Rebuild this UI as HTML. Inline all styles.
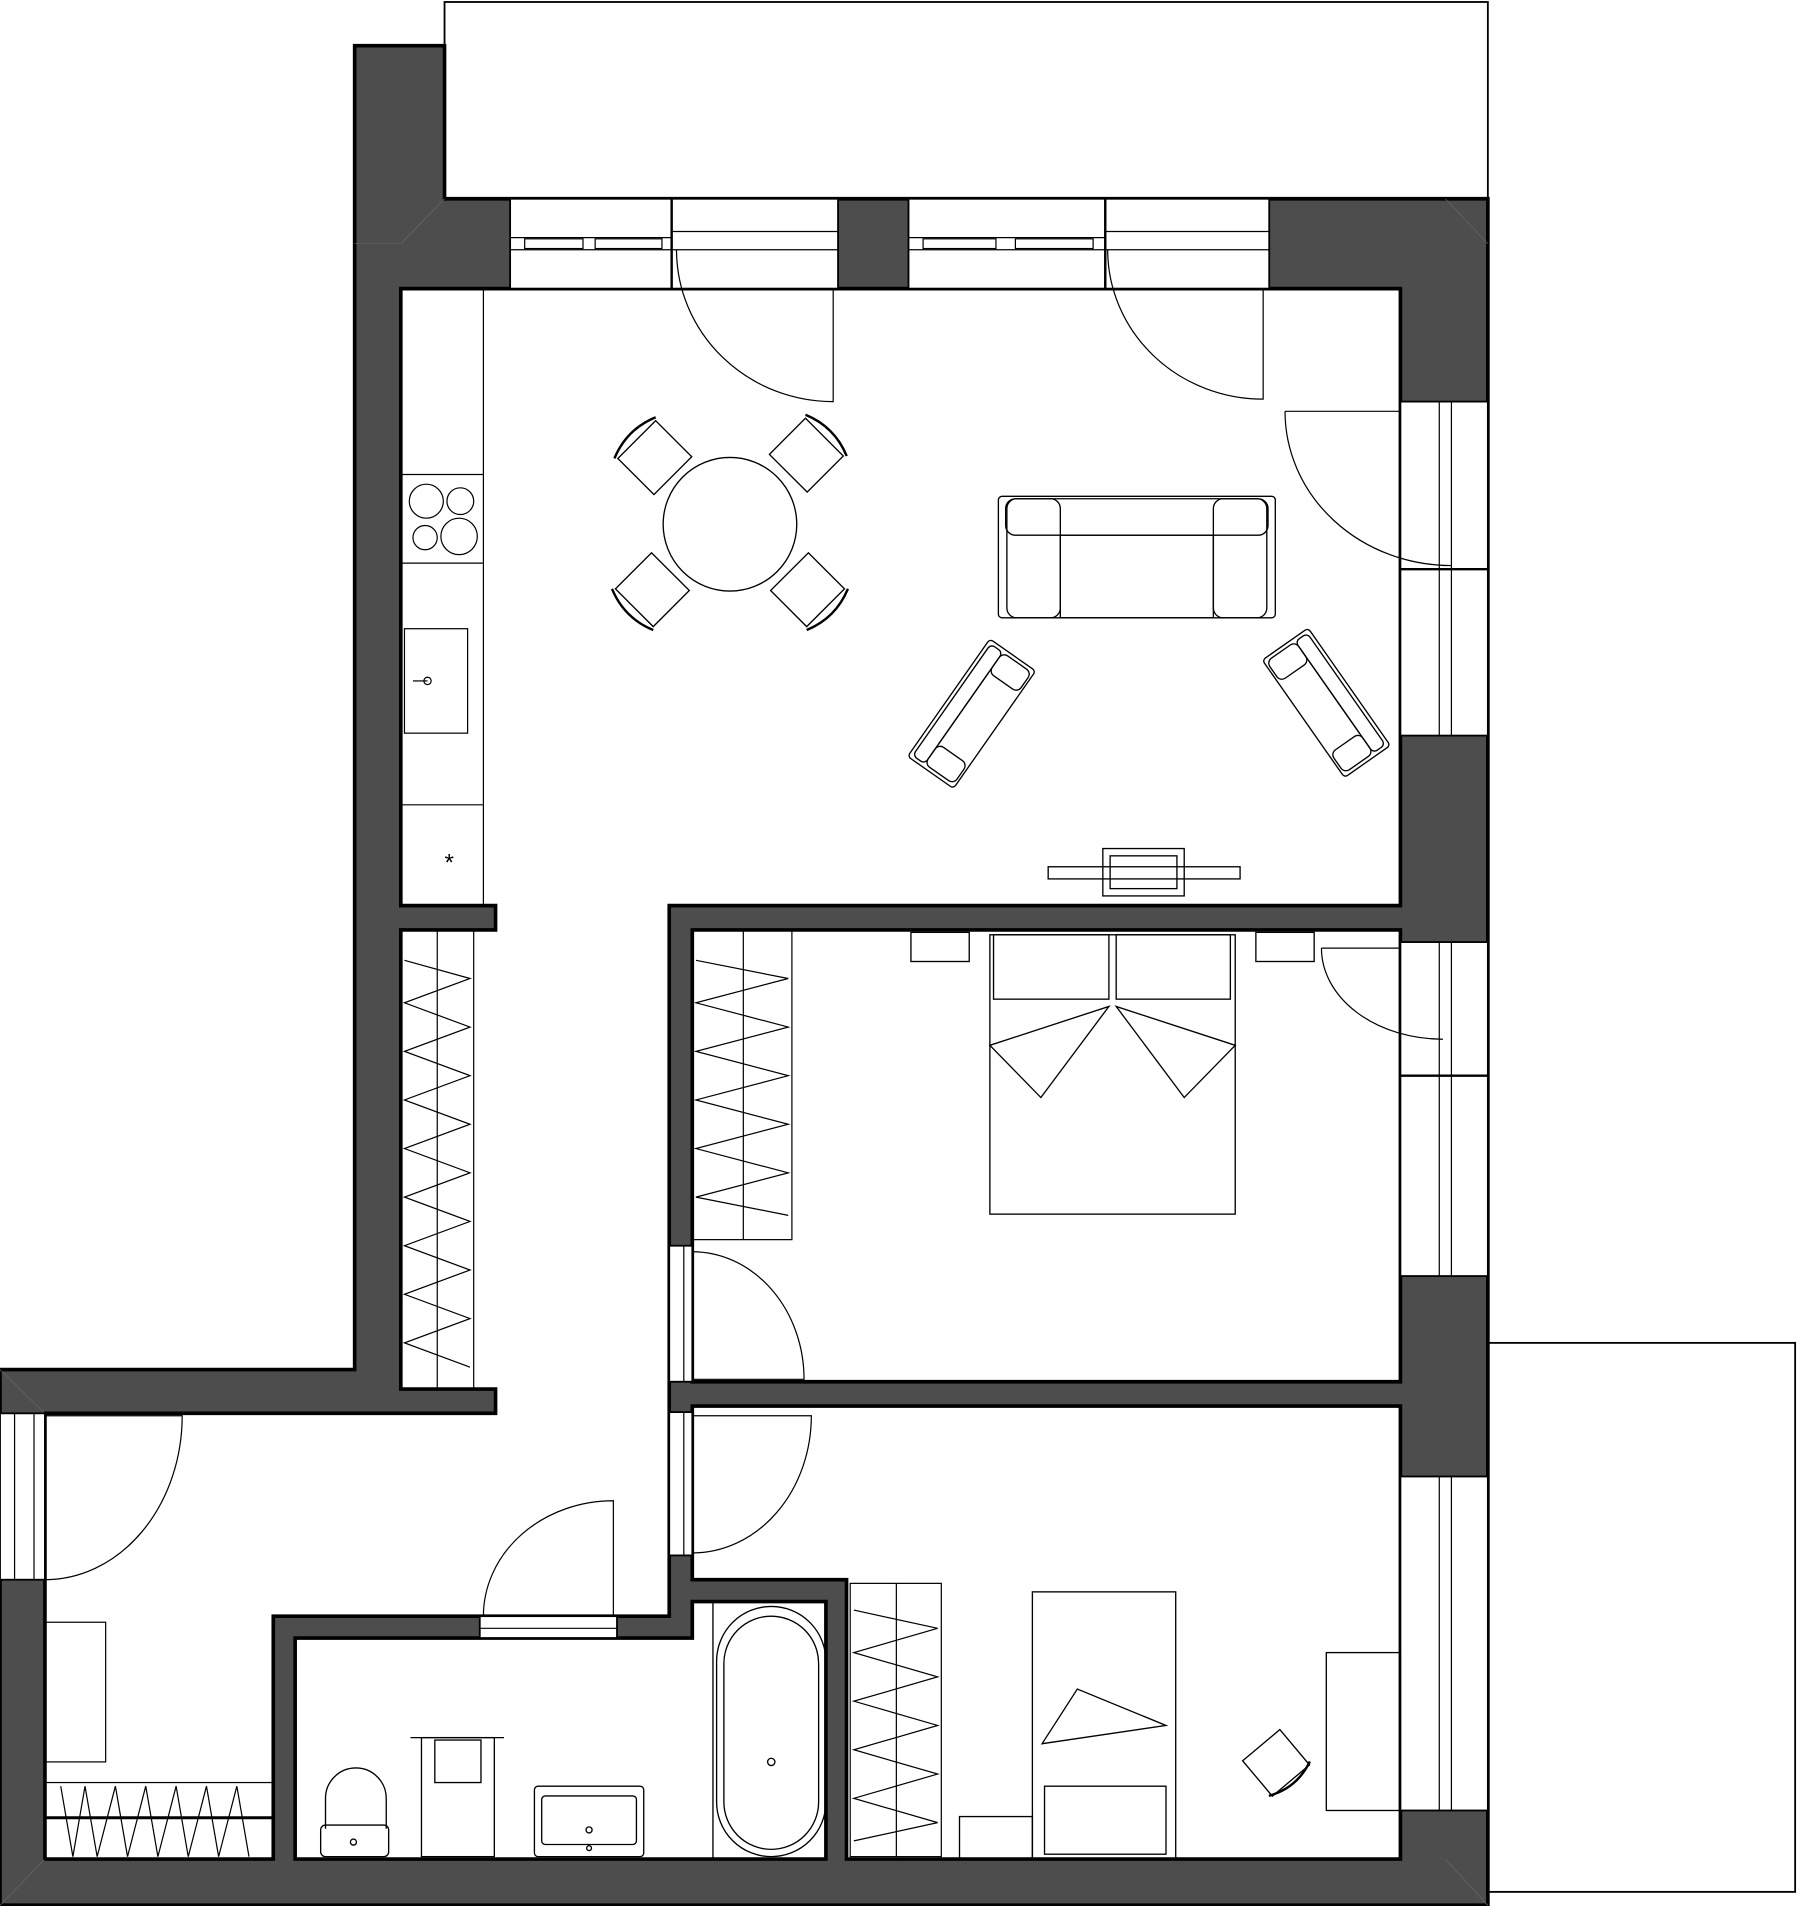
<!DOCTYPE html>
<html><head><meta charset="utf-8"><style>html,body{margin:0;padding:0;background:#fff}svg{display:block}</style></head><body>
<svg width="1800" height="1906" viewBox="0 0 1482 1568" xmlns="http://www.w3.org/2000/svg" fill="none" stroke="#000" stroke-width="1.2">
<rect x="366" y="1" width="859" height="162" fill="#fff" stroke-width="1.5"/>
<rect x="1225" y="1105" width="253" height="452" fill="#fff" stroke-width="1.5"/>
<polygon points="292,37 366,37 366,163 1225,163 1225,1568 0,1568 0,1127 292,1127" fill="#4d4d4d" stroke-width="3"/>
<polygon points="330,237 1153,237 1153,745 551,745 551,1330 225,1330 225,1530 37,1530 37,1163 408,1163 408,1143 330,1143 330,765 408,765 408,745 330,745" fill="#fff" stroke-width="3"/>
<polygon points="570,765 1153,765 1153,1137 570,1137" fill="#fff" stroke-width="3"/>
<polygon points="570,1157 1153,1157 1153,1530 697,1530 697,1300 570,1300" fill="#fff" stroke-width="3"/>
<polygon points="243,1348 570,1348 570,1318 680,1318 680,1530 243,1530" fill="#fff" stroke-width="3"/>
<g stroke="#666" stroke-width="0.6">
<line x1="292" y1="200" x2="330" y2="200"/><line x1="330" y1="200" x2="366" y2="163"/>
<line x1="1190" y1="163" x2="1225" y2="200"/><line x1="0" y1="1127" x2="37" y2="1163"/>
<line x1="0" y1="1568" x2="37" y2="1530"/><line x1="1225" y1="1568" x2="1190" y2="1530"/>
</g>
<g fill="#fff" stroke-width="1.5">
<rect x="420" y="163" width="270" height="74"/>
<rect x="748" y="163" width="297" height="74"/>
<rect x="1153" y="330" width="72" height="275"/>
<rect x="1153" y="775" width="72" height="275"/>
<rect x="1153" y="1215" width="72" height="275"/>
<rect x="0" y="1163" width="37" height="137"/>
<rect x="551" y="1025" width="19" height="112"/>
<rect x="551" y="1162" width="19" height="118"/>
<rect x="395" y="1330" width="113" height="18"/>
</g>
<g stroke-width="1">
<line x1="553" y1="163" x2="553" y2="237" stroke-width="2"/>
<line x1="420" y1="195" x2="553" y2="195"/><line x1="420" y1="205" x2="553" y2="205"/>
<rect x="432" y="196" width="48" height="8"/><rect x="490" y="196" width="55" height="8"/>
<line x1="553" y1="190" x2="690" y2="190"/><line x1="553" y1="205" x2="690" y2="205"/>
<line x1="910" y1="163" x2="910" y2="237" stroke-width="2"/>
<line x1="748" y1="195" x2="910" y2="195"/><line x1="748" y1="205" x2="910" y2="205"/>
<rect x="760" y="196" width="60" height="8"/><rect x="836" y="196" width="64" height="8"/>
<line x1="910" y1="190" x2="1045" y2="190"/><line x1="910" y1="205" x2="1045" y2="205"/>
<line x1="1153" y1="468" x2="1225" y2="468" stroke-width="2"/>
<line x1="1185" y1="330" x2="1185" y2="605"/><line x1="1195" y1="330" x2="1195" y2="605"/>
<line x1="1153" y1="885" x2="1225" y2="885" stroke-width="2"/>
<line x1="1185" y1="775" x2="1185" y2="1050"/><line x1="1195" y1="775" x2="1195" y2="1050"/>
<line x1="1185" y1="1215" x2="1185" y2="1490"/><line x1="1195" y1="1215" x2="1195" y2="1490"/>
<line x1="12" y1="1163" x2="12" y2="1300"/><line x1="28" y1="1163" x2="28" y2="1300"/>
<line x1="563" y1="1025" x2="563" y2="1137"/><line x1="563" y1="1162" x2="563" y2="1280"/>
<line x1="395" y1="1340" x2="508" y2="1340"/>
</g>
<g stroke-width="1">
<path d="M557,205 A129,125 0 0 0 686,330 L686,237"/>
<path d="M912,205 A128,123 0 0 0 1040,328 L1040,237"/>
<path d="M1058,338 L1153,338 M1058,338 A137,127 0 0 0 1195,465"/>
<path d="M1088,780 L1153,780 M1088,780 A100,75 0 0 0 1188,855"/>
<path d="M570,1030 A92,105 0 0 1 662,1135 L570,1135"/>
<path d="M570,1165 L668,1165 A98,113 0 0 1 570,1278"/>
<path d="M37,1165 L150,1165 A113,135 0 0 1 37,1300"/>
<path d="M505,1330 L505,1235 A107,95 0 0 0 398,1330"/>
</g>
<g stroke-width="1">
<line x1="398" y1="237" x2="398" y2="745"/>
<line x1="330" y1="390" x2="398" y2="390"/><line x1="330" y1="463" x2="398" y2="463"/>
<line x1="330" y1="662" x2="398" y2="662"/>
<circle cx="351" cy="412" r="14"/><circle cx="379" cy="412" r="11"/>
<circle cx="350" cy="442" r="10"/><circle cx="378" cy="441" r="15"/>
<rect x="333" y="517" width="52" height="86"/>
<circle cx="352" cy="560" r="3"/><line x1="340" y1="560" x2="352" y2="560"/>
<text x="366" y="716" font-family="Liberation Sans, sans-serif" font-size="20" fill="#000" stroke="none">*</text>
</g>
<g stroke-width="1.1">
<circle cx="601" cy="431" r="55"/>
<g transform="translate(537,374) rotate(-45)"><rect x="-22" y="-18" width="44" height="42"/><path d="M-24,-20 Q0,-30 24,-20" stroke-width="2"/></g>
<g transform="translate(666,372) rotate(45)"><rect x="-22" y="-18" width="44" height="42"/><path d="M-24,-20 Q0,-30 24,-20" stroke-width="2"/></g>
<g transform="translate(535,487) rotate(-135)"><rect x="-22" y="-18" width="44" height="42"/><path d="M-24,-20 Q0,-30 24,-20" stroke-width="2"/></g>
<g transform="translate(667,487) rotate(135)"><rect x="-22" y="-18" width="44" height="42"/><path d="M-24,-20 Q0,-30 24,-20" stroke-width="2"/></g>
</g>
<g stroke-width="1.1">
<rect x="822" y="408" width="228" height="100" rx="3"/>
<rect x="828" y="410" width="216" height="30" rx="8"/>
<rect x="829" y="410" width="44" height="98" rx="8"/>
<rect x="999" y="410" width="44" height="98" rx="8"/>
<rect x="873" y="440" width="126" height="68"/>
<g transform="translate(800,587) rotate(-55)"><rect x="-59" y="-23" width="118" height="46" rx="3"/><rect x="-56" y="-20" width="112" height="12" rx="4"/><rect x="-56" y="-8" width="20" height="29" rx="5"/><rect x="36" y="-8" width="20" height="29" rx="5"/><line x1="-36" y1="-8" x2="36" y2="-8"/></g>
<g transform="translate(1092,578) rotate(55)"><rect x="-59" y="-23" width="118" height="46" rx="3"/><rect x="-56" y="-20" width="112" height="12" rx="4"/><rect x="-56" y="-8" width="20" height="29" rx="5"/><rect x="36" y="-8" width="20" height="29" rx="5"/><line x1="-36" y1="-8" x2="36" y2="-8"/></g>
<rect x="863" y="713" width="158" height="10"/>
<rect x="908" y="698" width="67" height="39"/><rect x="914" y="704" width="55" height="27"/>
</g>
<g stroke-width="1.1">
<rect x="815" y="769" width="202" height="230"/>
<rect x="818" y="769" width="95" height="53"/><rect x="919" y="769" width="94" height="53"/>
<polygon points="815,860 913,828 857,903"/><polygon points="1017,860 919,828 975,903"/>
<rect x="750" y="767" width="48" height="24"/><rect x="1034" y="767" width="48" height="24"/>
</g>
<g stroke-width="1">
<rect x="330" y="765" width="60" height="378"/>
<line x1="360" y1="765" x2="360" y2="1143"/>
<polyline points="333,790 387,805 333,825 387,845 333,865 387,885 333,905 387,925 333,945 387,965 333,985 387,1005 333,1025 387,1045 333,1065 387,1085 333,1105 387,1125"/>
<rect x="570" y="765" width="82" height="255"/>
<line x1="612" y1="765" x2="612" y2="1020"/>
<polyline points="573,790 649,805 573,825 649,845 573,865 649,885 573,905 649,925 573,945 649,965 573,985 649,1000"/>
<rect x="700" y="1303" width="75" height="225"/>
<line x1="738" y1="1303" x2="738" y2="1528"/>
<polyline points="703,1325 772,1340 703,1360 772,1380 703,1400 772,1420 703,1440 772,1460 703,1480 772,1500 703,1515"/>
<rect x="37" y="1467" width="188" height="63"/>
<line x1="37" y1="1496" x2="225" y2="1496" stroke-width="2.5"/>
<polyline points="50,1470 60,1528 70,1470 80,1528 95,1470 105,1528 120,1470 130,1528 145,1470 155,1528 170,1470 180,1528 195,1470 205,1528"/>
<rect x="37" y="1335" width="50" height="115"/>
</g>
<g stroke-width="1.1">
<rect x="850" y="1310" width="118" height="220"/>
<rect x="860" y="1470" width="100" height="56"/>
<polygon points="858,1435 887,1390 960,1420"/>
<rect x="1092" y="1360" width="61" height="130"/>
<rect x="790" y="1495" width="60" height="35"/>
<g transform="translate(1050,1450) rotate(-40)"><rect x="-20" y="-18" width="40" height="38"/><path d="M-22,18 Q0,28 22,18" stroke-width="2"/></g>
</g>
<g stroke-width="1.1">
<rect x="590" y="1322" width="90" height="206" rx="45"/>
<rect x="596" y="1330" width="78" height="192" rx="39"/>
<line x1="587" y1="1318" x2="587" y2="1530"/>
<circle cx="635" cy="1450" r="3"/>
<path d="M268,1505 L268,1480 A25,25 0 0 1 318,1480 L318,1505"/>
<rect x="264" y="1502" width="56" height="26" rx="4"/>
<circle cx="291" cy="1516" r="2.5"/>
<rect x="347" y="1430" width="60" height="98"/>
<line x1="338" y1="1430" x2="415" y2="1430"/>
<rect x="358" y="1432" width="38" height="35"/>
<rect x="440" y="1470" width="90" height="58" rx="3"/>
<rect x="446" y="1478" width="78" height="40" rx="3"/>
<circle cx="485" cy="1506" r="2.5"/><circle cx="485" cy="1521" r="2"/>
</g>
</svg>
</body></html>
